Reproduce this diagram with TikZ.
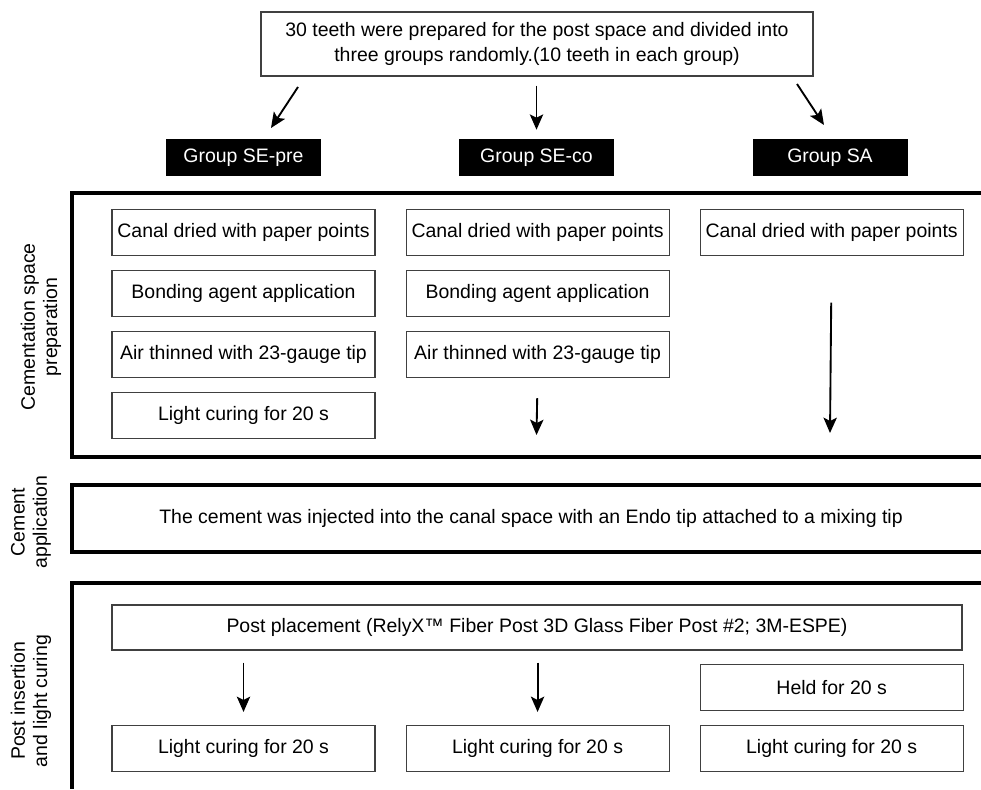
\documentclass[tikz,border=0pt]{standalone}
\usepackage{fontspec}
\setmainfont{Liberation Sans}
\usetikzlibrary{arrows.meta,positioning,calc}

\begin{document}
\begin{tikzpicture}[
  x=0.75pt, y=-0.75pt,
  node distance=10.5pt and 22.5pt,
  font=\fontsize{14.6}{16.8}\selectfont,
  box/.style={rectangle, draw=black!75, line width=0.8pt, minimum width=197.25pt, minimum height=34.5pt, inner sep=0pt, align=center},
  grp/.style={rectangle, fill=black, text=white, minimum width=116.25pt, minimum height=27.75pt, inner sep=0pt},
  frame/.style={line width=3pt},
  side/.style={rotate=90, align=center},
  arrow/.style={-{Stealth[length=11.5pt, width=10pt, inset=2.5pt]}, line width=1.4pt},
]
  \useasboundingbox (0,0) rectangle (981,789);

  % top and groups
  \node[box, minimum width=414pt, minimum height=48pt, font=\fontsize{14.6}{19}\selectfont] (start) at (537,44) {30 teeth were prepared for the post space and divided into\\three groups randomly.(10 teeth in each group)};
  \node[grp] (sepre) at (243.5,157.5) {Group SE-pre};
  \node[grp] (seco) at (536.5,157.5) {Group SE-co};
  \node[grp] (sa) at (830,157.5) {Group SA};

  % cementation space preparation
  \draw[frame] (981,193) -- (72,193) -- (72,457) -- (981,457);
  \node[side] (labprep) at (41,327) {Cementation space\\preparation};
  \node[box] (canal1) at (243.5,232.5) {Canal dried with paper points};
  \node[box, below=of canal1] (bond1) {Bonding agent application};
  \node[box, below=of bond1] (air1) {Air thinned with 23-gauge tip};
  \node[box, below=of air1] (cure1) {Light curing for 20 s};
  \node[box, right=of canal1] (canal2) {Canal dried with paper points};
  \node[box, below=of canal2] (bond2) {Bonding agent application};
  \node[box, below=of bond2] (air2) {Air thinned with 23-gauge tip};
  \node[box, right=of canal2] (canal3) {Canal dried with paper points};

  % cement application
  \draw[frame] (981,485) -- (72,485) -- (72,552) -- (981,552);
  \node[side] (labcem) at (31,522) {Cement\\application};
  \node (inject) at (531,518) {The cement was injected into the canal space with an Endo tip attached to a mixing tip};

  % post insertion and light curing
  \draw[frame] (981,583) -- (72,583) -- (72,789);
  \node[side] (labpost) at (31,701) {Post insertion\\and light curing};
  \node[box, minimum width=637.5pt, minimum height=33.75pt] (post) at (537,627.5) {Post placement (RelyX\texttrademark\ Fiber Post 3D Glass Fiber Post \#2; 3M-ESPE)};
  \node[box] (light1) at (243.5,748.5) {Light curing for 20 s};
  \node[box, right=of light1] (light2) {Light curing for 20 s};
  \node[box, right=of light2] (light3) {Light curing for 20 s};
  \node[box, above=of light3] (held) {Held for 20 s};

  \coordinate (a1) at (298,87);
  \coordinate (b1) at (271,128);
  \coordinate (a3) at (797,84);
  \coordinate (b3) at (824,125);
  \coordinate (e2) at (536.5,435);
  \coordinate (e3) at (830,433);

  \draw[arrow] (a1) -- (b1);
  \draw[arrow, shorten <=6.75pt, shorten >=6.75pt] (start.south -| seco) -- (seco.north);
  \draw[arrow] (a3) -- (b3);
  \draw[arrow, shorten <=15pt] (air2.south) -- (e2);
  \draw[arrow, shorten <=35pt] (canal3.south) -- (e3);
  \draw[arrow, shorten <=9pt, shorten >=9.75pt] (post.south -| light1) -- (light1.north);
  \draw[arrow, shorten <=9pt, shorten >=9.75pt] (post.south -| light2) -- (light2.north);
\end{tikzpicture}
\end{document}
